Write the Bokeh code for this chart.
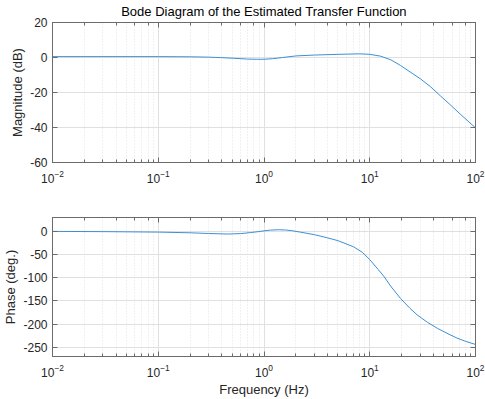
from bokeh.plotting import figure
from bokeh.layouts import column
from bokeh.models import (LogAxis, LinearAxis, LogTicker, FixedTicker,
                          Range1d, CustomJSTickFormatter)
from bokeh.embed import file_html
from bokeh.resources import INLINE

# ---- data ----
freq_mag = [0.01, 0.03, 0.1, 0.2, 0.3, 0.4, 0.5, 0.7, 0.85, 1.0, 1.2, 1.5, 2.0,
            3.0, 5.0, 8.0, 10.0, 12.6, 15.8, 19.5, 24.0, 30.0, 37.4, 46.5,
            57.7, 71.6, 100.0]
mag_db = [0.5, 0.5, 0.5, 0.4, 0.2, -0.1, -0.4, -0.9, -1.0, -1.0, -0.7, 0.0, 0.9,
          1.4, 1.8, 2.1, 1.8, 0.8, -1.3, -4.5, -8.2, -12.1, -16.6, -21.9,
          -27.0, -32.3, -40.2]

freq_ph = [0.01, 0.03, 0.1, 0.2, 0.3, 0.45, 0.6, 0.75, 0.9, 1.0, 1.15, 1.37,
           1.6, 1.83, 2.2, 3.0, 4.0, 5.0, 7.0, 8.5, 10.0, 12.0, 13.6, 16.0,
           19.6, 24.0, 28.0, 35.0, 43.5, 55.0, 66.5, 80.0, 100.0]
phase_deg = [0.0, -0.5, -1.5, -3.0, -4.5, -5.7, -4.8, -2.5, -0.3, 1.2, 2.8, 3.6,
             3.0, 1.6, -1.5, -7.0, -14.0, -20.0, -33.0, -45.0, -61.0, -82.0,
             -97.0, -120.0, -145.0, -166.0, -180.0, -196.0, -209.0, -221.0,
             -230.0, -237.0, -244.0]

mag_ticks = [-60, -40, -20, 0, 20]
phase_ticks = [-250, -200, -150, -100, -50, 0]

title_text = "Bode Diagram of the Estimated Transfer Function"

TXT = "#262626"
AX = "#6b6b6b"
LINE = "#3d8fd4"
FONT = "Liberation Sans"


def blank():
    return CustomJSTickFormatter(code="return ' ';")


def plain():
    return CustomJSTickFormatter(code="return tick.toString();")


def style(p, yticks):
    p.outline_line_color = AX
    p.background_fill_color = "white"
    p.border_fill_color = "white"
    p.xgrid.grid_line_color = "#e0e0e0"
    p.xgrid.minor_grid_line_color = "#e2e2e2"
    p.xgrid.minor_grid_line_dash = "1 2"
    p.ygrid.grid_line_color = "#e0e0e0"
    p.ygrid.ticker = FixedTicker(ticks=yticks)
    for ax in p.axis:
        ax.axis_line_color = AX
        ax.major_tick_in = 5
        ax.major_tick_out = 0
        ax.minor_tick_in = 3
        ax.minor_tick_out = 0
        ax.major_tick_line_color = AX
        ax.minor_tick_line_color = AX
        ax.major_label_text_font = FONT
        ax.major_label_text_font_size = "12px"
        ax.major_label_text_color = TXT
        ax.axis_label_text_font = FONT
        ax.axis_label_text_font_size = "13px"
        ax.axis_label_text_font_style = "normal"
        ax.axis_label_text_color = TXT
        ax.axis_label_standoff = 2
    p.yaxis.ticker = FixedTicker(ticks=yticks)
    p.yaxis.formatter = plain()
    p.yaxis.minor_tick_line_color = None
    p.yaxis.major_label_standoff = 5
    p.xaxis.major_label_standoff = 7
    top = LogAxis(ticker=LogTicker(), formatter=blank(),
                  major_label_text_font_size="1px", axis_line_color=AX,
                  major_tick_in=5, major_tick_out=0, minor_tick_in=3,
                  minor_tick_out=0, major_tick_line_color=AX,
                  minor_tick_line_color=AX, major_label_standoff=0)
    right = LinearAxis(ticker=FixedTicker(ticks=yticks), formatter=blank(),
                       major_label_text_font_size="1px", axis_line_color=AX,
                       major_tick_in=5, major_tick_out=0,
                       major_tick_line_color=AX, minor_tick_line_color=None,
                       major_label_standoff=0)
    p.add_layout(top, "above")
    p.add_layout(right, "right")


p1 = figure(width=485, height=190, x_axis_type="log",
            x_range=Range1d(0.01, 100), y_range=Range1d(-60, 20),
            output_backend="svg", toolbar_location=None,
            min_border_left=50, min_border_right=10, min_border_top=22,
            min_border_bottom=28, title=title_text)
p1.title.text_font = FONT
p1.title.text_font_size = "13px"
p1.title.text_font_style = "normal"
p1.title.text_color = "#000000"
p1.title.align = "center"
p1.title.standoff = 0
p1.title.offset = 0
p1.line(freq_mag, mag_db, line_color=LINE, line_width=1)
p1.yaxis.axis_label = "Magnitude (dB)"
style(p1, mag_ticks)

p2 = figure(width=485, height=209, x_axis_type="log",
            x_range=Range1d(0.01, 100), y_range=Range1d(-270, 30),
            output_backend="svg", toolbar_location=None,
            min_border_left=50, min_border_right=10, min_border_top=27,
            min_border_bottom=42)
p2.line(freq_ph, phase_deg, line_color=LINE, line_width=1)
p2.yaxis.axis_label = "Phase (deg.)"
p2.xaxis.axis_label = "Frequency (Hz)"
style(p2, phase_ticks)

layout = column(p1, p2, spacing=0)

with open("out.html", "w") as f:
    f.write(file_html(layout, INLINE))
